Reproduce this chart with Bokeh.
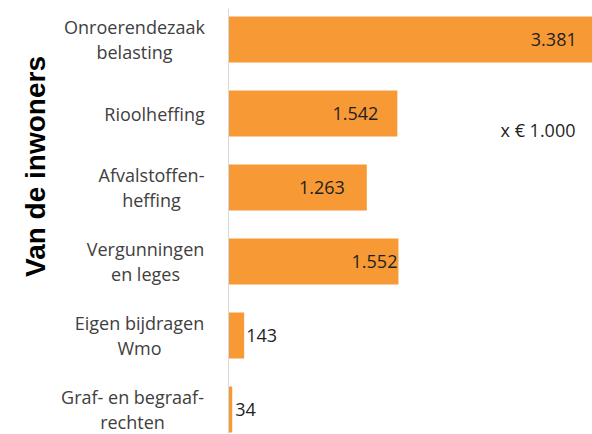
import math
from bokeh.plotting import figure
from bokeh.models import Range1d, Span, Label, ColumnDataSource
from bokeh.core.properties import value
from bokeh.embed import file_html
from bokeh.resources import INLINE

# ---- data ----
categories = ["Onroerendezaak\nbelasting", "Rioolheffing", "Afvalstoffen-\nheffing",
              "Vergunningen\nen leges", "Eigen bijdragen\nWmo", "Graf- en begraaf-\nrechten"]
values = [3381, 1542, 1263, 1552, 143, 34]
value_labels = ["3.381", "1.542", "1.263", "1.552", "143", "34"]
unit_note = "x € 1.000"
axis_title = "Van de inwoners"

# ---- styles ----
label_offsets = [-22, -19, -22, -1, 2, 3]
label_aligns = ["right", "right", "right", "right", "left", "left"]
cat_centers = [134, 154, 151, 145, 139, 132]   # screen x of category label centers
BAR = "#F79A36"
FONT = "Open Sans"
PX_PER_UNIT = 0.1095
AXIS_X = 228

pos = list(range(len(categories)))

p = figure(width=592, height=434, output_backend="svg", toolbar_location=None,
           x_range=Range1d(-AXIS_X / PX_PER_UNIT, (592 - AXIS_X) / PX_PER_UNIT),
           y_range=Range1d(5.338, -0.419),
           min_border_left=0, min_border_right=0, min_border_top=8, min_border_bottom=0)
p.xaxis.visible = False
p.yaxis.visible = False
p.xgrid.visible = False
p.ygrid.visible = False
p.outline_line_color = None

src = ColumnDataSource(dict(y=pos, v=values, lab=value_labels, off=label_offsets, al=label_aligns))
p.hbar(y="y", right="v", left=0, height=0.62, source=src, fill_color=BAR, line_color=None)

p.add_layout(Span(location=0, dimension="height", line_color="#d9d9d9", line_width=1))

p.text(x="v", y="y", text="lab", x_offset="off", text_align="al", text_baseline="middle",
       source=src, text_font=value(FONT), text_font_size="18px", text_color="#1f1f1f")

for i, c in enumerate(categories):
    p.add_layout(Label(x=cat_centers[i], x_units="screen", y=pos[i], text=c,
                       text_align="center", text_baseline="middle", text_font=FONT,
                       text_font_size="18px", text_color="#404040", text_line_height=1.08))

p.add_layout(Label(x=575, x_units="screen", y=305, y_units="screen", text=unit_note,
                   text_align="right", text_baseline="middle", text_font=FONT,
                   text_font_size="18px", text_color="#1f1f1f"))

p.add_layout(Label(x=35, x_units="screen", y=268, y_units="screen", text=axis_title,
                   angle=math.pi / 2, text_align="center", text_baseline="middle",
                   text_font="Liberation Sans", text_font_style="bold",
                   text_font_size="28px", text_color="#000000"))

open("out.html", "w").write(file_html(p, INLINE))
